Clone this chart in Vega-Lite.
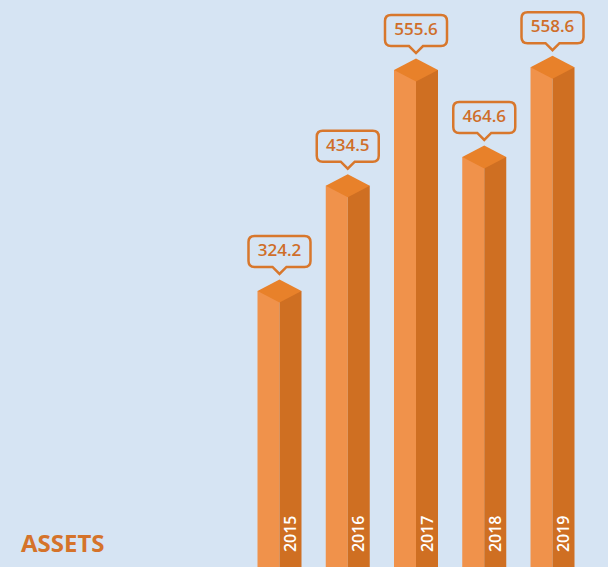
{
  "$schema": "https://vega.github.io/schema/vega-lite/v6.json",
  "width": 608,
  "height": 567,
  "padding": 0,
  "autosize": {"type": "none"},
  "background": "#d6e4f3",
  "config": {"view": {"stroke": null}},
  "title": {
    "text": "ASSETS",
    "orient": "bottom",
    "anchor": "start",
    "frame": "group",
    "offset": -15,
    "dx": 21,
    "baseline": "alphabetic",
    "fontSize": 24,
    "font": "Open Sans",
    "fontWeight": "bold",
    "color": "#d5732a"
  },
  "data": {
    "values": [
      {"year": 2015, "value": 324.2},
      {"year": 2016, "value": 434.5},
      {"year": 2017, "value": 555.6},
      {"year": 2018, "value": 464.6},
      {"year": 2019, "value": 558.6}
    ]
  },
  "encoding": {
    "x": {
      "field": "year",
      "type": "quantitative",
      "scale": {"domain": [2010.905, 2019.813], "nice": false, "zero": false},
      "axis": {
        "values": [2015, 2016, 2017, 2018, 2019],
        "format": "d",
        "title": null,
        "labelAngle": 270,
        "labelAlign": "right",
        "labelBaseline": "middle",
        "labelOffset": 11,
        "offset": -52,
        "labelPadding": 0,
        "domain": false,
        "ticks": false,
        "grid": false,
        "labelColor": "#ffffff",
        "labelFontSize": 16,
        "labelFont": "Open Sans",
        "labelFontWeight": 600,
        "labelOverlap": false,
        "labelFlush": false,
        "zindex": 1
      }
    },
    "y": {
      "field": "value",
      "type": "quantitative",
      "scale": {"domain": [35, 629], "nice": false, "zero": false, "clamp": true},
      "axis": null
    }
  },
  "layer": [
    {
      "mark": {"type": "rect", "xOffset": -22, "x2Offset": 0, "color": "#f0924b"},
      "encoding": {"x2": {"field": "year"}, "y2": {"datum": 0}}
    },
    {
      "mark": {"type": "rect", "xOffset": 0, "x2Offset": 22, "color": "#cf6f22"},
      "encoding": {"x2": {"field": "year"}, "y2": {"datum": 0}}
    },
    {
      "mark": {
        "type": "point",
        "shape": "M-1,0L0,-0.523L1,0L0,0.523Z",
        "size": 1936,
        "filled": true,
        "color": "#e8812a",
        "opacity": 1,
        "strokeWidth": 0
      }
    },
    {
      "mark": {
        "type": "point",
        "shape": "M-0.806,-1.774L0.806,-1.774Q1,-1.774,1,-1.581L1,-0.968Q1,-0.774,0.806,-0.774L0.226,-0.774L0,-0.548L-0.226,-0.774L-0.806,-0.774Q-1,-0.774,-1,-0.968L-1,-1.581Q-1,-1.774,-0.806,-1.774Z",
        "size": 3844,
        "filled": false,
        "color": "#d8772c",
        "strokeWidth": 2.5,
        "opacity": 1
      }
    },
    {
      "mark": {
        "type": "text",
        "dy": -40,
        "baseline": "middle",
        "align": "center",
        "fontSize": 17,
        "font": "Open Sans",
        "fontWeight": 600,
        "color": "#cf6e2a"
      },
      "encoding": {"text": {"field": "value", "type": "quantitative", "format": ".1f"}}
    }
  ]
}
